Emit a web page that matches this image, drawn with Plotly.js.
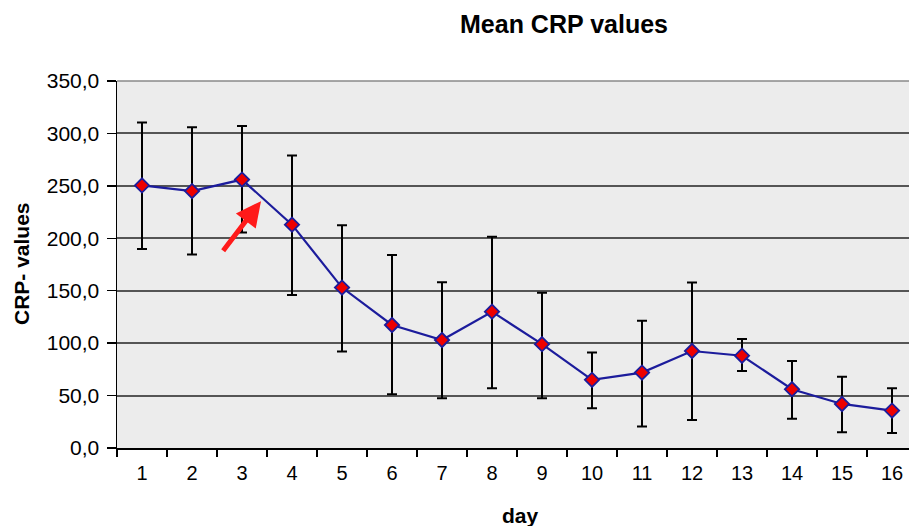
<!DOCTYPE html>
<html>
<head>
<meta charset="utf-8">
<script src="https://cdn.plot.ly/plotly-3.0.1.min.js"></script>
<style>html,body{margin:0;padding:0;background:#fff;}#chart{width:909px;height:526px;}</style>
</head>
<body>
<div id="chart"></div>
<script>
const days = [1,2,3,4,5,6,7,8,9,10,11,12,13,14,15,16];
const meanCRP = [250.4,245.0,256.0,213.0,153.0,117.3,103.0,130.0,99.0,65.0,71.9,92.5,88.0,56.0,42.0,35.7];
const errUpper = [60.0,61.0,51.0,66.0,59.5,66.7,55.0,71.5,49.0,26.0,49.5,65.4,16.0,27.0,26.0,21.3];
const errLower = [60.6,60.5,50.5,67.0,61.0,66.0,55.5,73.0,51.5,27.0,51.4,65.7,14.5,28.2,27.0,21.5];
const yTicks = [0,50,100,150,200,250,300,350];
const chartTitle = 'Mean CRP values';
const xTitle = 'day';
const yTitle = 'CRP- values';

const trace = {
  x: days, y: meanCRP, type: 'scatter', mode: 'lines+markers',
  line: {color: '#1c1c9c', width: 2.2},
  marker: {symbol: 'diamond', size: 11, color: '#ee0000', line: {color: '#1c1c9c', width: 1.8}},
  error_y: {type: 'data', symmetric: false, array: errUpper, arrayminus: errLower,
            color: '#000', thickness: 2, width: 5},
  hoverinfo: 'skip'
};

const layout = {
  width: 909, height: 526,
  margin: {l: 117, r: 0, t: 80.5, b: 77.5, pad: 0},
  paper_bgcolor: '#ffffff', plot_bgcolor: '#ececec',
  separators: ',.',
  font: {family: 'Liberation Sans, Arial, sans-serif', color: '#000'},
  showlegend: false,
  xaxis: {
    range: [0.5, 16.34], tickmode: 'array', tickvals: days, ticktext: days.map(String),
    ticks: '', showgrid: false, zeroline: false,
    showline: true, linecolor: '#000', linewidth: 1.5,
    tickfont: {size: 20, color: '#000'}, ticklabelstandoff: 6,
    minor: {tickmode: 'array', tickvals: days.map(d => d - 0.5).concat([16.5]),
            ticks: 'outside', ticklen: 7, tickwidth: 1.5, tickcolor: '#000', showgrid: false}
  },
  yaxis: {
    range: [0, 350], tickmode: 'array', tickvals: yTicks, tickformat: '.1f',
    ticks: 'outside', ticklen: 9, tickwidth: 1.5, tickcolor: '#000',
    showgrid: true, gridcolor: '#555555', gridwidth: 2, zeroline: false,
    showline: true, linecolor: '#000', linewidth: 1.5, mirror: false,
    tickfont: {size: 21, color: '#000'}, ticklabelstandoff: 3
  },
  shapes: [
    {type: 'line', xref: 'paper', yref: 'paper', x0: 0, x1: 1, y0: 1, y1: 1,
     line: {color: '#8a8a8a', width: 1.5}}
  ],
  annotations: [
    {text: '<b>' + chartTitle + '</b>', xref: 'paper', yref: 'paper',
     x: (564 - 117) / 792, y: 1 + (80.5 - 23) / 368, xanchor: 'center', yanchor: 'middle',
     showarrow: false, font: {size: 25, color: '#000'}},
    {text: '<b>' + yTitle + '</b>', xref: 'paper', yref: 'paper', textangle: -90,
     x: -(117 - 21) / 792, y: (448.5 - 264) / 368, xanchor: 'center', yanchor: 'middle',
     showarrow: false, font: {size: 21, color: '#000'}},
    {text: '<b>' + xTitle + '</b>', xref: 'paper', yref: 'paper',
     x: (520 - 117) / 792, y: -(516 - 448.5) / 368, xanchor: 'center', yanchor: 'middle',
     showarrow: false, font: {size: 21, color: '#000'}},
    {text: '', x: 3.38, y: 235.4, xref: 'x', yref: 'y', showarrow: true,
     ax: -39, ay: 51, arrowcolor: '#ff1a1a', arrowwidth: 5, arrowhead: 2, arrowsize: 1}
  ]
};

Plotly.newPlot('chart', [trace], layout, {staticPlot: true, displayModeBar: false});
</script>
</body>
</html>
